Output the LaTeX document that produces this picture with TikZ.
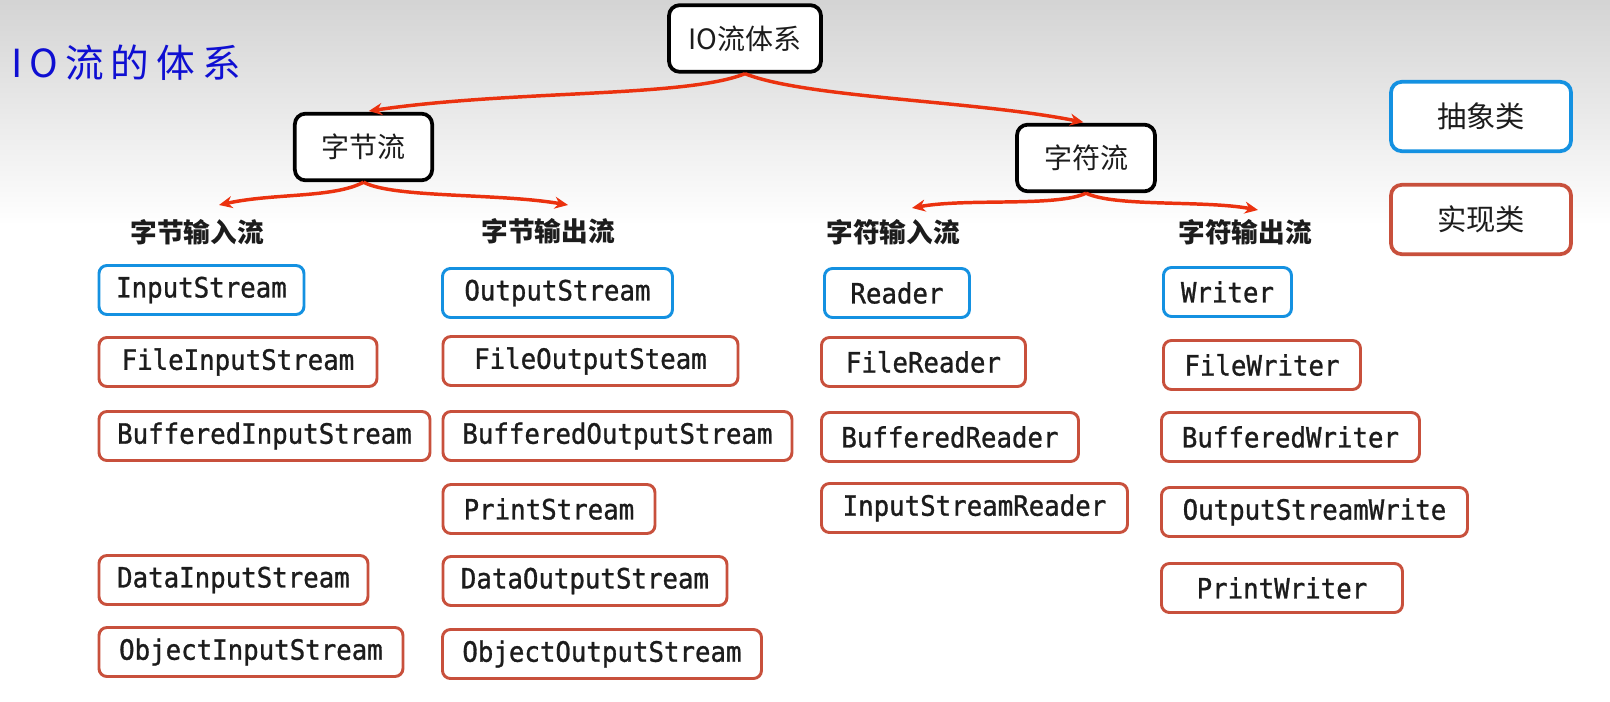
\documentclass[tikz,border=0pt]{standalone}
\usepackage{fontspec}
\setmainfont{Noto Sans CJK SC}
\newfontfamily\cjk{Noto Sans CJK SC}
\newfontfamily\handfont[LetterSpace=18]{Noto Sans CJK SC}
\newfontfamily\codefont[FakeStretch=0.92,FakeBold=1]{DejaVu Sans Mono}
\usetikzlibrary{arrows.meta}
\definecolor{absblue}{RGB}{20,145,225}
\definecolor{implred}{RGB}{200,80,60}
\definecolor{linkred}{RGB}{235,50,15}
\definecolor{titleblue}{RGB}{15,15,210}
\definecolor{txtgray}{RGB}{28,28,28}
\begin{document}
\begin{tikzpicture}[x=0.75pt,y=0.75pt,yscale=-1,xscale=1,
  topbox/.style={draw=black,line width=2.8pt,rounded corners=8pt,fill=white,text=txtgray,minimum height=50pt,font=\cjk\fontsize{21}{21}\selectfont},
  absbox/.style={draw=absblue,line width=2.2pt,rounded corners=6pt,fill=white,text=txtgray,minimum height=36.75pt,anchor=west,font=\codefont\fontsize{21}{21}\selectfont},
  implbox/.style={absbox,draw=implred},
  head/.style={text=txtgray,font=\cjk\bfseries\fontsize{20}{20}\selectfont},
  link/.style={draw=linkred,line width=2.6pt,-{Stealth[length=10pt,width=9pt]}}]
\useasboundingbox (0,0) rectangle (1610,702);
\fill[white] (0,0) rectangle (1610,702);
\shade[top color=gray!34,bottom color=white] (0,0) rectangle (1610,225);
% title
\node[text=titleblue,font=\handfont\fontsize{29}{29}\selectfont] (title) at (126,63) {IO流的体系};
% tree
\node[topbox,minimum width=114pt] (io) at (745,38.5) {IO流体系};
\node[topbox,minimum width=103pt] (bytes) at (363.5,147) {字节流};
\node[topbox,minimum width=103.5pt] (chars) at (1086,158) {字符流};
\node[topbox,draw=absblue,minimum width=135pt,minimum height=52pt,font=\cjk\fontsize{22}{22}\selectfont] (abs) at (1481,116.5) {抽象类};
\node[topbox,draw=implred,minimum width=135pt,minimum height=52pt,font=\cjk\fontsize{22}{22}\selectfont] (impl) at (1481,219.5) {实现类};
\node[head] (bin) at (197,232) {字节输入流};
\node[head] (bout) at (548,231) {字节输出流};
\node[head] (cin) at (893,232) {字符输入流};
\node[head] (cout) at (1245,232) {字符输出流};
\coordinate (binend) at (219,205);
\coordinate (boutend) at (568,205);
\coordinate (cinend) at (912,208);
\coordinate (coutend) at (1258,210);
\draw[link,shorten >=4pt] (io.south) .. controls +(-60,24) and +(150,-22) .. (bytes.north);
\draw[link,shorten >=2pt] (io.south) .. controls +(60,24) and +(-110,-22) .. (chars.north);
\draw[link] (bytes.south) .. controls +(-30,16) and +(55,-12) .. (binend);
\draw[link] (bytes.south) .. controls +(30,16) and +(-70,-12) .. (boutend);
\draw[link] (chars.south) .. controls +(-30,14) and +(55,-10) .. (cinend);
\draw[link] (chars.south) .. controls +(30,14) and +(-55,-10) .. (coutend);
% byte input
\node[absbox,minimum width=153.75pt] (instream) at (97.5,290) {InputStream};
\node[implbox,minimum width=208.5pt] (fileinstream) at (97.5,362) {FileInputStream};
\node[implbox,minimum width=248.25pt] (bufinstream) at (97.5,436) {BufferedInputStream};
\node[implbox,minimum width=201.75pt] (datainstream) at (97.5,580) {DataInputStream};
\node[implbox,minimum width=228pt] (objinstream) at (97.5,652) {ObjectInputStream};
% byte output
\node[absbox,minimum width=172.5pt] (outstream) at (441,293) {OutputStream};
\node[implbox,minimum width=221.25pt] (fileoutstream) at (441.5,361) {FileOutputSteam};
\node[implbox,minimum width=261.75pt] (bufoutstream) at (441.5,436) {BufferedOutputStream};
\node[implbox,minimum width=159pt] (printstream) at (441.5,509) {PrintStream};
\node[implbox,minimum width=213pt] (dataoutstream) at (441.5,581) {DataOutputStream};
\node[implbox,minimum width=239.25pt] (objoutstream) at (441,654) {ObjectOutputStream};
% char input
\node[absbox,minimum width=108.75pt] (reader) at (823,293) {Reader};
\node[implbox,minimum width=153pt] (filereader) at (820,362) {FileReader};
\node[implbox,minimum width=192.75pt] (bufreader) at (820,437) {BufferedReader};
\node[implbox,minimum width=229.5pt] (inreader) at (820,508) {InputStreamReader};
% char output
\node[absbox,minimum width=96pt] (writer) at (1162,292) {Writer};
\node[implbox,minimum width=147.75pt] (filewriter) at (1162,365) {FileWriter};
\node[implbox,minimum width=193.5pt] (bufwriter) at (1160,437) {BufferedWriter};
\node[implbox,minimum width=229.5pt] (outwriter) at (1160,512) {OutputStreamWrite};
\node[implbox,minimum width=180.75pt] (printwriter) at (1160,588) {PrintWriter};
\end{tikzpicture}
\end{document}
